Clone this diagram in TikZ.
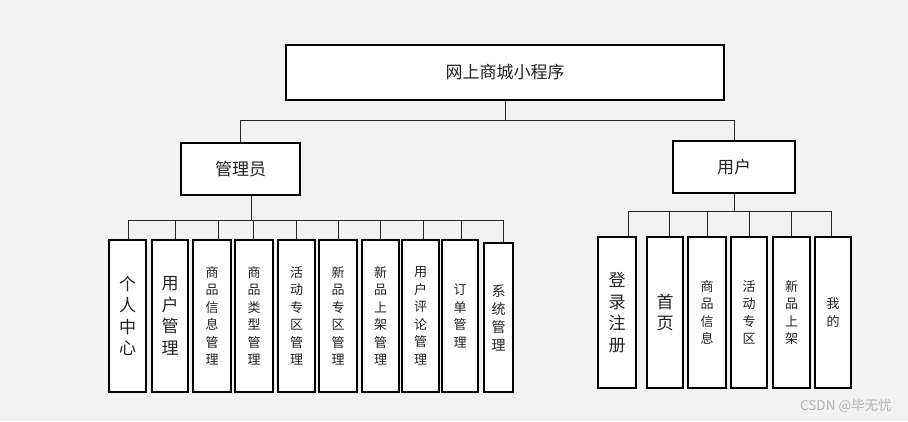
\documentclass[tikz,border=0pt]{standalone}
\usepackage{fontspec}
\setmainfont{Noto Sans CJK SC}
\definecolor{bgcol}{HTML}{F2F2F2}
\definecolor{txt}{HTML}{222222}
\definecolor{wm}{HTML}{B4B4B4}
\tikzset{
  box/.style={draw=black, fill=white, line width=1.4pt, inner sep=0pt, align=center, text=txt},
  big/.style={font=\fontsize{17}{21.5}\selectfont},
  small/.style={font=\fontsize{13}{17.5}\selectfont},
  link/.style={draw=black!85, line width=0.9pt},
  lbox/.style={box, small, minimum width=37pt, minimum height=152pt},
  rbox/.style={box, small, minimum width=37pt, minimum height=151pt}
}
\begin{document}
\begin{tikzpicture}[x=1pt,y=-1pt]
\fill[bgcol] (0,0) rectangle (908,421);
\useasboundingbox (0,0) rectangle (908,421);

\node[box, big, minimum width=438pt, minimum height=55pt] (top) at (505,72.5) {网上商城小程序};
\node[box, big, minimum width=119pt, minimum height=52pt] (adm) at (240.5,169) {管理员};
\node[box, big, minimum width=122pt, minimum height=52pt] (usr) at (734,167) {用户};

% admin children
\node[lbox, big] (l1) at (127.5,316) {个\\人\\中\\心};
\node[lbox, big, minimum width=36pt] (l2) at (170,316) {用\\户\\管\\理};
\node[lbox, minimum width=38pt] (l3) at (212,316) {商\\品\\信\\息\\管\\理};
\node[lbox, minimum width=38pt] (l4) at (254,316) {商\\品\\类\\型\\管\\理};
\node[lbox] (l5) at (296.5,316) {活\\动\\专\\区\\管\\理};
\node[lbox, minimum width=38pt] (l6) at (338,316) {新\\品\\专\\区\\管\\理};
\node[lbox] (l7) at (380.5,316) {新\\品\\上\\架\\管\\理};
\node[lbox] (l8) at (420.5,316) {用\\户\\评\\论\\管\\理};
\node[lbox, minimum width=36pt] (l9) at (460,316) {订\\单\\管\\理};
\node[lbox, minimum width=29pt, minimum height=149pt, font=\fontsize{14}{18}\selectfont] (l10) at (498.5,317.5) {系\\统\\管\\理};

% user children
\node[rbox, big, minimum width=38pt] (r1) at (617,312.5) {登\\录\\注\\册};
\node[rbox, big, minimum width=36pt] (r2) at (665,312.5) {首\\页};
\node[rbox, minimum width=38pt] (r3) at (707,312.5) {商\\品\\信\\息};
\node[rbox, minimum width=36pt] (r4) at (749,312.5) {活\\动\\专\\区};
\node[rbox] (r5) at (791.5,312.5) {新\\品\\上\\架};
\node[rbox, minimum width=36pt] (r6) at (833,312.5) {我\\的};

% top level connectors
\draw[link] (top.south) -- ++(0,20) coordinate (j1);
\draw[link] (adm.north) |- (j1) -| (usr.north);

% admin bus
\draw[link] ([xshift=11]adm.south) -- ++(0,25) coordinate (j2);
\draw[link] ([xshift=0.5]l1.north) |- ([xshift=4.5]l10.north |- j2) -- ([xshift=4.5]l10.north);
\foreach \n/\s in {l2/5, l3/6, l4/-1, l5/0, l6/0, l7/0, l8/2.5, l9/1} {
  \draw[link] ([xshift=\s]\n.north) -- ([xshift=\s]\n.north |- j2);
}

% user bus
\draw[link] (usr.south) -- ++(0,18) coordinate (j3);
\draw[link] ([xshift=11]r1.north) |- ([xshift=-2]r6.north |- j3) -- ([xshift=-2]r6.north);
\foreach \n/\s in {r2/4, r3/0, r4/0, r5/0} {
  \draw[link] ([xshift=\s]\n.north) -- ([xshift=\s]\n.north |- j3);
}

% watermark
\node[text=wm, font=\fontsize{13.5}{15}\selectfont, inner sep=0pt] (wmk) at (846,406) {CSDN @毕无忧};
\end{tikzpicture}
\end{document}
